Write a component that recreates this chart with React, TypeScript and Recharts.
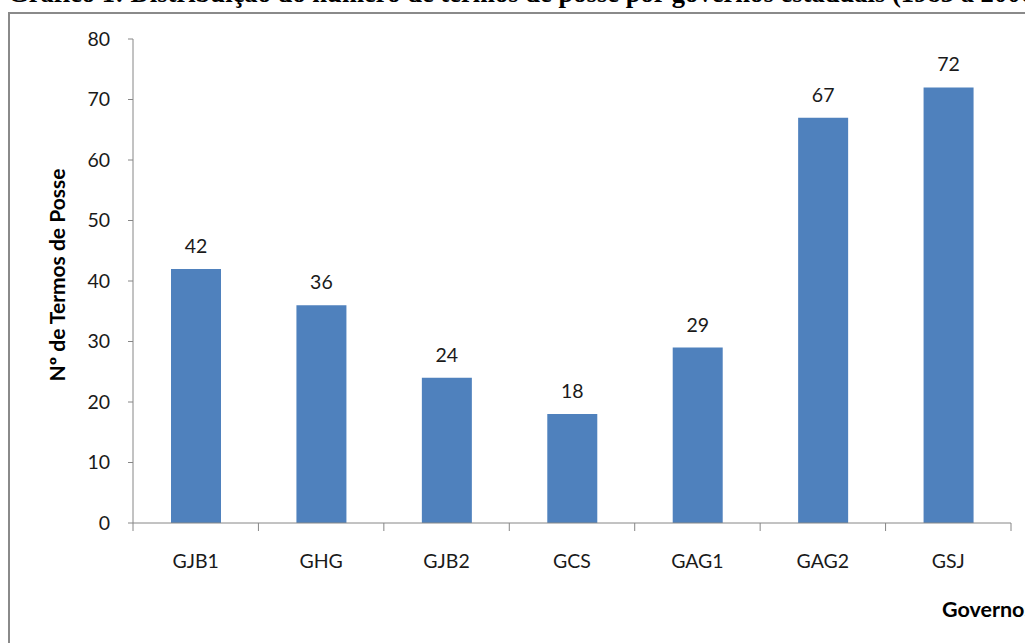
import React from "react";
import { BarChart, Bar, XAxis, YAxis, LabelList } from "recharts";

const categories = ["GJB1", "GHG", "GJB2", "GCS", "GAG1", "GAG2", "GSJ"];
const values = [42, 36, 24, 18, 29, 67, 72];
const yTicks = [0, 10, 20, 30, 40, 50, 60, 70, 80];

const data = categories.map((c, i) => ({ name: c, value: values[i] }));

const FONT = "Lato, 'Open Sans', sans-serif";
const AXIS = "#868686";
const TEXT = "#1a1a1a";

const XTick = (props: any) => {
  const { x, y, payload, index } = props;
  const half = payload && payload.offset ? payload.offset : 0;
  const isLast = index === categories.length - 1;
  return (
    <g>
      <line x1={x - half} y1={y - 8} x2={x - half} y2={y} stroke={AXIS} strokeWidth={1} />
      {isLast && <line x1={x + half} y1={y - 8} x2={x + half} y2={y} stroke={AXIS} strokeWidth={1} />}
      <text x={x} y={y + 37} textAnchor="middle" fontFamily={FONT} fontSize={19.5} fill={TEXT}>
        {payload.value}
      </text>
    </g>
  );
};

export default function App() {
  return (
    <div style={{ position: "absolute", left: 0, top: 0, width: 1025, height: 643, overflow: "hidden", background: "#fff" }}>
      <div
        style={{
          position: "absolute",
          left: 0,
          top: -22,
          whiteSpace: "nowrap",
          fontFamily: "'Liberation Serif', 'Times New Roman', serif",
          fontWeight: "bold",
          fontSize: 26.6,
          lineHeight: "30px",
          color: "#000",
          paddingLeft: 8,
        }}
      >
        Gráfico 1: Distribuição do número de termos de posse por governos estaduais (1983 a 2006)
      </div>
      <div
        style={{
          position: "absolute",
          left: 8,
          top: 12,
          width: 1100,
          height: 700,
          borderLeft: "2px solid #8a8a8a",
          borderTop: "2px solid #8a8a8a",
        }}
      />
      <div style={{ position: "absolute", left: 0, top: 0 }}>
        <BarChart
          width={1025}
          height={643}
          data={data}
          margin={{ top: 39, right: 14, bottom: 90, left: 73 }}
          barSize={50}
        >
          <YAxis
            type="number"
            domain={[0, 80]}
            ticks={yTicks}
            interval={0}
            width={60}
            axisLine={{ stroke: AXIS }}
            tickLine={{ stroke: AXIS }}
            tickSize={5}
            tickMargin={18}
            tick={{ fontFamily: FONT, fontSize: 19.5, fill: TEXT }}
            label={{
              value: "Nº de Termos de Posse",
              angle: -90,
              position: "insideLeft",
              dx: -20,
              dy: -6,
              style: { fontFamily: FONT, fontSize: 21, fontWeight: "bold", fill: "#000", textAnchor: "middle" },
            }}
          />
          <XAxis
            dataKey="name"
            type="category"
            height={30}
            axisLine={{ stroke: AXIS }}
            tickLine={false}
            interval={0}
            tick={<XTick />}
          />
          <Bar dataKey="value" fill="#4F81BD" isAnimationActive={false}>
            <LabelList dataKey="value" position="top" offset={16} style={{ fontFamily: FONT, fontSize: 19.5, fill: TEXT }} />
          </Bar>
          <text x={942} y={617} fontFamily={FONT} fontSize={21.5} fontWeight="bold" fill="#000">
            Governos
          </text>
        </BarChart>
      </div>
    </div>
  );
}
